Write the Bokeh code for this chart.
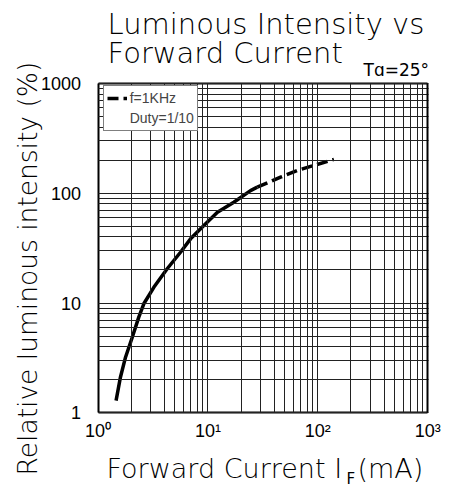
import math
from bokeh.plotting import figure
from bokeh.models import Range1d, FixedTicker, Label, Legend, LegendItem, LogAxis
from bokeh.embed import file_html
from bokeh.resources import INLINE

# ---- data ----
solid_x = [1.46, 1.60, 1.78, 2.05, 2.35, 2.61, 3.22, 4.26, 5.63, 6.95, 9.18, 12.2, 17.2, 24.4, 28.1]
solid_y = [1.29, 2.11, 3.21, 4.88, 7.43, 9.84, 13.9, 20.5, 29.0, 38.4, 50.8, 67.1, 82.8, 105.6, 113.5]
dashed_x = [28.1, 45.8, 65.0, 92.0, 140.0]
dashed_y = [113.5, 140.0, 161.0, 179.0, 203.0]

major_ticks = [1, 10, 100, 1000]
x_tick_labels = ["10\u2070", "10\u00b9", "10\u00b2", "10\u00b3"]
y_tick_labels = ["1", "10", "100", "1000"]
minor_ticks = [m * k for m in major_ticks[:-1] for k in range(2, 10)]

title_lines = ["Luminous Intensity vs", "Forward Current"]
temp_text = "T\u0251=25\u00b0"
legend_labels = ["f=1KHz", "Duty=1/10"]
y_label = "Relative luminous intensity (%)"
x_label_main = "Forward Current I"
x_label_sub = "F"
x_label_unit = "(mA)"

TITLE_FONT = "DejaVu Sans Light, DejaVu Sans"
NUM_FONT = "Liberation Sans"

# ---- layout (canvas pixels) ----
W, H = 459, 488
BOX_L, BOX_R, BOX_T, BOX_B = 97.5, 427.3, 82.9, 412.3
lo, hi = math.log10(major_ticks[0]), math.log10(major_ticks[-1])
dec_x = (BOX_R - BOX_L) / (hi - lo)
dec_y = (BOX_B - BOX_T) / (hi - lo)
x_start = 10 ** (lo - BOX_L / dec_x)
x_end = 10 ** (hi + (W - BOX_R) / dec_x)
y_start = 10 ** (lo - (H - BOX_B) / dec_y)
y_end = 10 ** (hi + BOX_T / dec_y)

p = figure(width=W, height=H, x_axis_type="log", y_axis_type="log",
           x_range=Range1d(x_start, x_end), y_range=Range1d(y_start, y_end),
           output_backend="svg", toolbar_location=None, min_border=0)
p.title.visible = False
p.background_fill_color = "white"
p.border_fill_color = "white"
p.outline_line_color = None
p.grid.visible = False

bounds = (major_ticks[0], major_ticks[-1])
ticker = FixedTicker(ticks=major_ticks, minor_ticks=minor_ticks)

def style_axis(ax, tick_len, show_labels):
    ax.ticker = ticker
    ax.bounds = bounds
    ax.fixed_location = major_ticks[0] if show_labels else major_ticks[-1]
    ax.axis_line_color = "black"
    ax.axis_line_width = 2
    ax.major_tick_out = 0
    ax.minor_tick_out = 0
    ax.major_tick_in = tick_len
    ax.minor_tick_in = tick_len
    ax.major_tick_line_color = "#222222" if show_labels else None
    ax.minor_tick_line_color = "#222222" if show_labels else None
    ax.major_tick_line_width = 1
    ax.minor_tick_line_width = 1
    ax.major_label_text_font = NUM_FONT
    ax.major_label_text_font_size = "18px"
    ax.major_label_text_color = "black" if show_labels else None

style_axis(p.xaxis[0], int(round(BOX_B - BOX_T)), True)
style_axis(p.yaxis[0], int(round(BOX_R - BOX_L)), True)
p.xaxis[0].major_label_overrides = {t: s for t, s in zip(major_ticks, x_tick_labels)}
p.yaxis[0].major_label_overrides = {t: s for t, s in zip(major_ticks, y_tick_labels)}
p.xaxis[0].major_label_standoff = 8
p.yaxis[0].major_label_standoff = 17

top_ax = LogAxis()
right_ax = LogAxis()
style_axis(top_ax, 0, False)
style_axis(right_ax, 0, False)
p.add_layout(top_ax, "above")
p.add_layout(right_ax, "right")

p.line(solid_x, solid_y, line_color="black", line_width=3.5)
dash_r = p.line(dashed_x, dashed_y, line_color="black", line_width=3.5, line_dash="11 5")
blank_r = p.line(dashed_x, dashed_y, line_alpha=0)

legend = Legend(items=[LegendItem(label=legend_labels[0], renderers=[dash_r]),
                       LegendItem(label=legend_labels[1], renderers=[blank_r])],
                location=(102.7, 357), margin=0, padding=3, spacing=2,
                glyph_width=20, glyph_height=18, label_height=18, label_standoff=3,
                label_text_font=NUM_FONT, label_text_font_size="14px",
                border_line_color="black", border_line_width=1.5,
                background_fill_color="white", background_fill_alpha=1.0)
p.add_layout(legend)

BASE_SHIFT = 0.32  # em: observed offset between anchor and drawn baseline

def lab(text, page_x, page_base_y, size, font=TITLE_FONT, rotated=False):
    shift = BASE_SHIFT * size
    if rotated:
        x, y, angle = page_x - shift, H - page_base_y, math.pi / 2
    else:
        x, y, angle = page_x, H - page_base_y + shift, 0.0
    p.add_layout(Label(x=x, y=y, x_units="screen", y_units="screen", text=text,
                       text_font=font, text_font_size=f"{size}px", text_color="black",
                       text_align="left", text_baseline="alphabetic", angle=angle))

# positions (px from left / px from top of baseline)
lab(title_lines[0], 107, 33, 29)
lab(title_lines[1], 107, 62, 29)
lab(temp_text, 363, 75, 17, font="DejaVu Sans")
lab(y_label, 35, 475, 26.5, rotated=True)
lab(x_label_main, 106, 476.5, 27)
lab(x_label_sub, 346, 483, 15, font="DejaVu Sans")
lab(x_label_unit, 357, 476.5, 27)

open("out.html", "w").write(file_html(p, INLINE))
